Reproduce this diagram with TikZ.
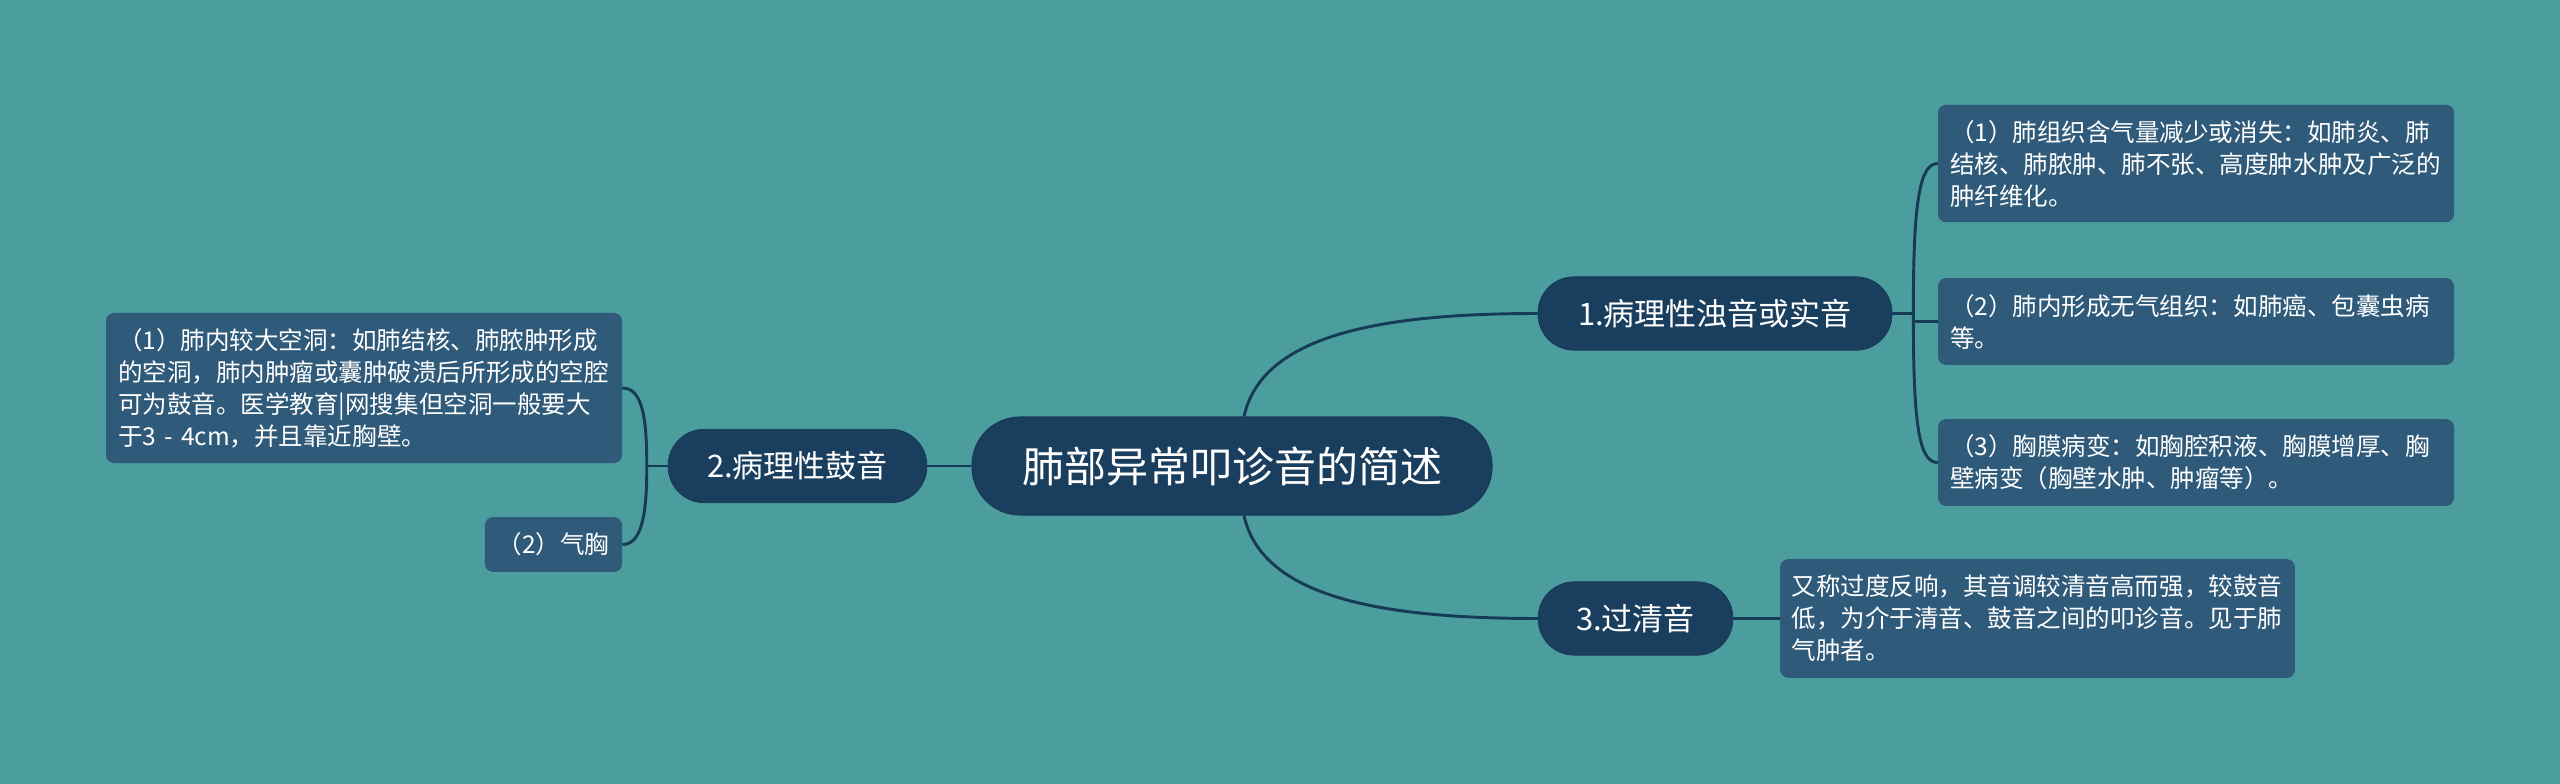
\documentclass[tikz,border=0pt]{standalone}
\usepackage{fontspec}
\setmainfont{Noto Sans CJK SC}
\definecolor{bgteal}{HTML}{4C9E9E}
\definecolor{navyfill}{HTML}{1A3E5E}
\definecolor{cardfill}{HTML}{2F5A7A}
\definecolor{wirecol}{HTML}{173A57}

\begin{document}
\begin{tikzpicture}[x=0.75pt, y=-0.75pt,
  every node/.style={text=white, inner sep=0pt},
  rootpill/.style={fill=navyfill, draw=wirecol, line width=0.8pt, rounded corners=36pt,
    minimum width=390pt, minimum height=73.5pt, font=\fontsize{31.5}{36}\selectfont},
  subpill/.style={fill=navyfill, draw=wirecol, line width=0.6pt, rounded corners=27pt,
    minimum height=55pt, font=\fontsize{23.25}{28}\selectfont},
  card/.style={fill=cardfill, rounded corners=6pt, font=\fontsize{18.4}{24}\selectfont},
  leaf/.style={card, align=left, text width=369pt, minimum width=387pt},
  wire/.style={draw=wirecol, line width=2.2pt}]
  \fill[bgteal] (0,0) rectangle (2560,784);
  \useasboundingbox (0,0) rectangle (2560,784);
  % main topics
  \node[rootpill] (root) at (1232,466) {肺部异常叩诊音的简述};
  \node[subpill, minimum width=265.5pt] (patho) at (1715,313.5) {1.病理性浊音或实音};
  \node[subpill, minimum width=194pt] (tymp) at (797.5,466) {2.病理性鼓音};
  \node[subpill, minimum width=146pt] (hyper) at (1635.5,618.5) {3.过清音};
  % leaves
  \node[leaf, minimum height=112.5pt] (cavity) at (364,388) {（1）肺内较大空洞：如肺结核、肺脓肿形成\\的空洞，肺内肿瘤或囊肿破溃后所形成的空腔\\可为鼓音。医学教育|网搜集但空洞一般要大\\于3 - 4cm，并且靠近胸壁。};
  \node[card, minimum width=103pt, minimum height=41pt] (pneumo) at (553.5,544.5) {（2）气胸};
  \node[leaf, minimum height=88pt] (consol) at (2196,163.5) {（1）肺组织含气量减少或消失：如肺炎、肺\\结核、肺脓肿、肺不张、高度肿水肿及广泛的\\肿纤维化。};
  \node[leaf, minimum height=65pt] (airless) at (2196,321.5) {（2）肺内形成无气组织：如肺癌、包囊虫病\\等。};
  \node[leaf, minimum height=65pt] (pleura) at (2196,462.5) {（3）胸膜病变：如胸腔积液、胸膜增厚、胸\\壁病变（胸壁水肿、肿瘤等）。};
  \node[leaf, minimum width=386pt, minimum height=89pt] (emphy) at (2037.5,618.5) {又称过度反响，其音调较清音高而强，较鼓音\\低，为介于清音、鼓音之间的叩诊音。见于肺\\气肿者。};
  % connectors
  \draw[wire] (root.west) -- (tymp.east);
  \draw[wire] ([xshift=9pt]root.north) .. controls (1262,335) and (1380,313.5) .. (patho.west);
  \draw[wire] ([xshift=9pt]root.south) .. controls (1262,597) and (1380,618.5) .. (hyper.west);
  \draw[wire] (hyper.east) -- (emphy.west);
  \draw[wire] (patho.east) -- ++(21,0) coordinate (forkr);
  \draw[wire] (forkr) .. controls (1913,200) and (1920,163.5) .. (consol.west);
  \draw[wire] (forkr) |- (airless.west);
  \draw[wire] (forkr) .. controls (1913,430) and (1920,462.5) .. (pleura.west);
  \draw[wire] (tymp.west) -- ++(-21,0) coordinate (forkl);
  \draw[wire] (forkl) .. controls (647,410) and (640,388) .. (cavity.east);
  \draw[wire] (forkl) .. controls (647,520) and (640,544.5) .. (pneumo.east);
\end{tikzpicture}
\end{document}
